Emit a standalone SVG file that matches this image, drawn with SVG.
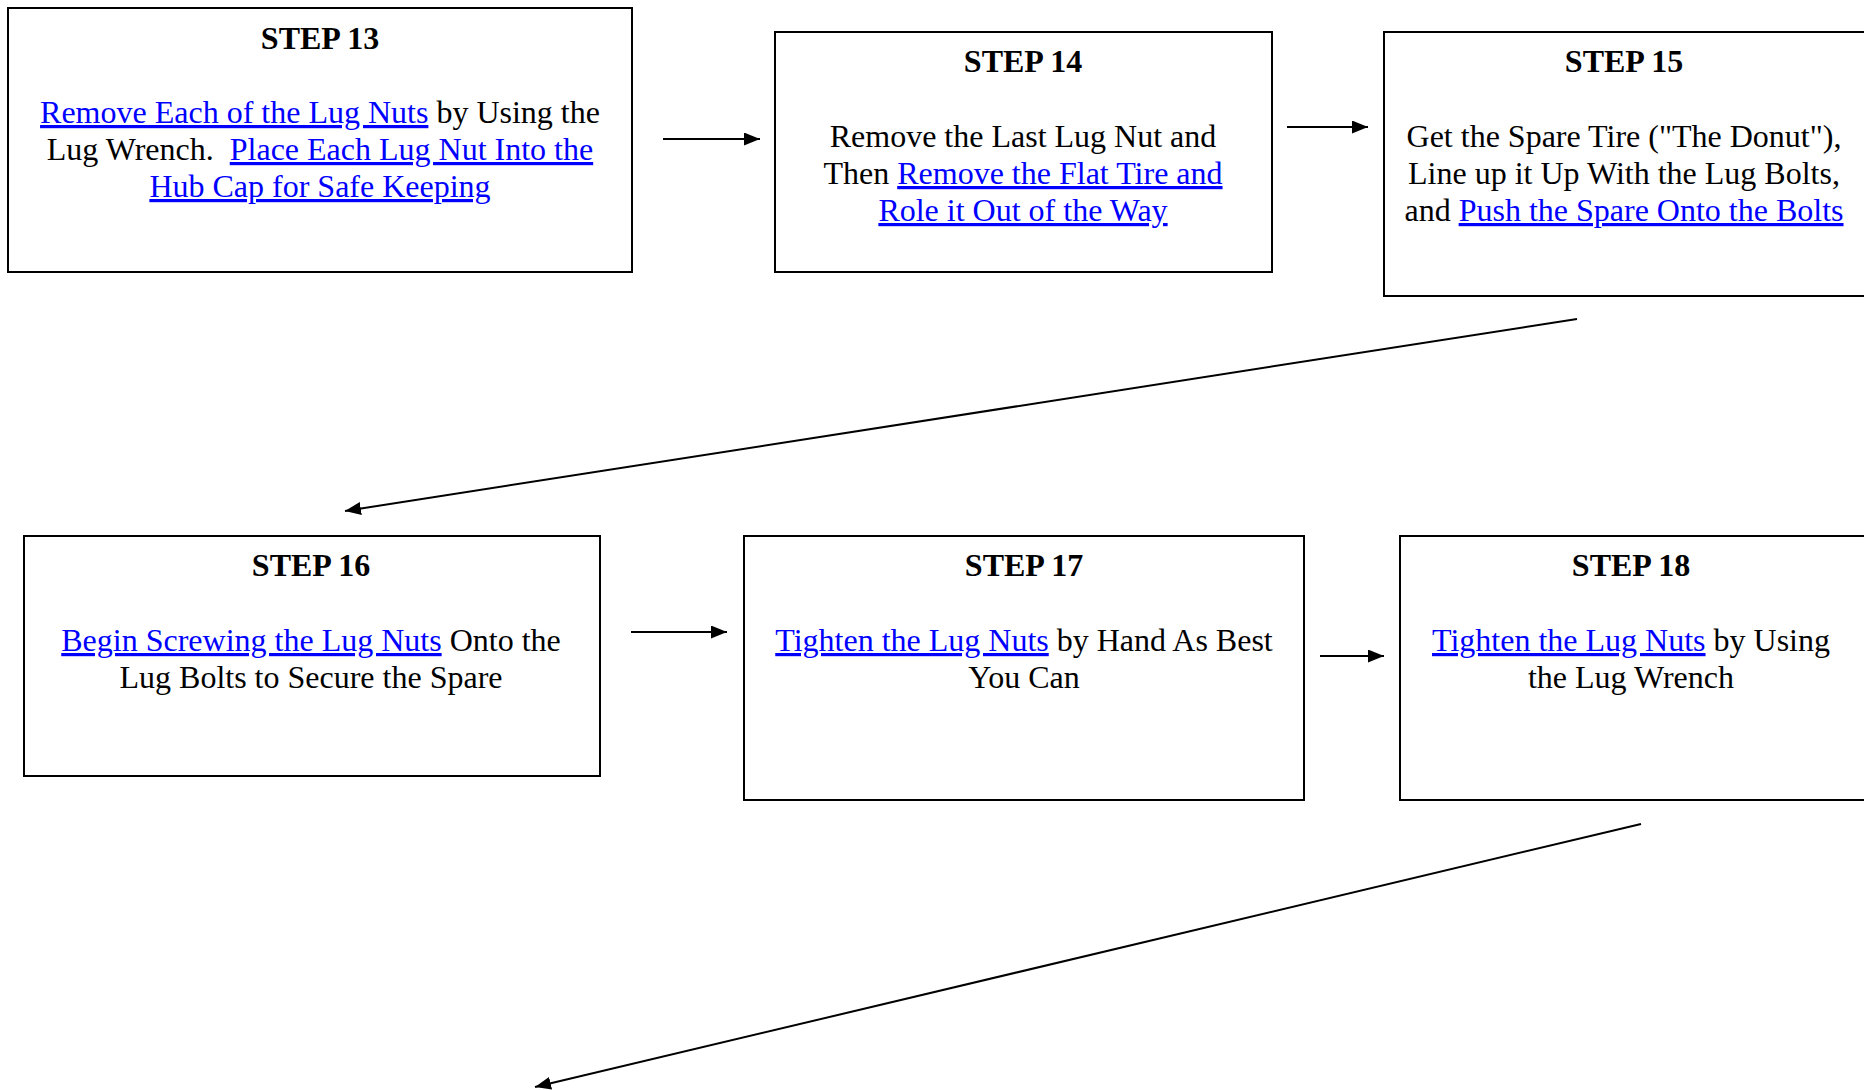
<svg xmlns="http://www.w3.org/2000/svg" width="1864" height="1090" viewBox="0 0 1864 1090">
<style>
.box{fill:#fff;stroke:#000;stroke-width:2}
.t{font-family:"Liberation Serif","Times New Roman",serif;font-weight:bold;font-size:32px;text-anchor:middle;fill:#000}
.b{font-family:"Liberation Serif","Times New Roman",serif;font-size:32px;text-anchor:middle;fill:#000}
.l{fill:#0000ff;text-decoration:underline}
.c{stroke:#000;stroke-width:2;fill:none;marker-end:url(#ah)}
</style>
<defs>
<marker id="ah" markerUnits="userSpaceOnUse" markerWidth="17" markerHeight="13" refX="16" refY="6.5" orient="auto">
<path d="M0,0 L16,6.5 L0,13 z" fill="#000"/>
</marker>
</defs>
<rect width="1864" height="1090" fill="#fff"/>
<g id="connectors">
<line class="c" x1="663" y1="139" x2="760" y2="139"/>
<line class="c" x1="1287" y1="127" x2="1368" y2="127"/>
<line class="c" x1="1577" y1="319" x2="345" y2="511"/>
<line class="c" x1="631" y1="632" x2="727" y2="632"/>
<line class="c" x1="1320" y1="656" x2="1384" y2="656"/>
<line class="c" x1="1641" y1="824" x2="535" y2="1087"/>
</g>
<g id="step13">
<rect class="box" x="8" y="8" width="624" height="264"/>
<text class="t" x="320" y="49">STEP 13</text>
<text class="b" x="320" y="123"><tspan class="l">Remove Each of the Lug Nuts</tspan> by Using the</text>
<text class="b" x="320" y="160" xml:space="preserve">Lug Wrench.  <tspan class="l">Place Each Lug Nut Into the</tspan></text>
<text class="b" x="320" y="197"><tspan class="l">Hub Cap for Safe Keeping</tspan></text>
</g>
<g id="step14">
<rect class="box" x="775" y="32" width="497" height="240"/>
<text class="t" x="1023" y="72">STEP 14</text>
<text class="b" x="1023" y="147">Remove the Last Lug Nut and</text>
<text class="b" x="1023" y="184">Then <tspan class="l">Remove the Flat Tire and</tspan></text>
<text class="b" x="1023" y="221"><tspan class="l">Role it Out of the Way</tspan></text>
</g>
<g id="step15">
<rect class="box" x="1384" y="32" width="482" height="264"/>
<text class="t" x="1624" y="72">STEP 15</text>
<text class="b" x="1624" y="147">Get the Spare Tire ("The Donut"),</text>
<text class="b" x="1624" y="184">Line up it Up With the Lug Bolts,</text>
<text class="b" x="1624" y="221">and <tspan class="l">Push the Spare Onto the Bolts</tspan></text>
</g>
<g id="step16">
<rect class="box" x="24" y="536" width="576" height="240"/>
<text class="t" x="311" y="576">STEP 16</text>
<text class="b" x="311" y="651"><tspan class="l">Begin Screwing the Lug Nuts</tspan> Onto the</text>
<text class="b" x="311" y="688">Lug Bolts to Secure the Spare</text>
</g>
<g id="step17">
<rect class="box" x="744" y="536" width="560" height="264"/>
<text class="t" x="1024" y="576">STEP 17</text>
<text class="b" x="1024" y="651"><tspan class="l">Tighten the Lug Nuts</tspan> by Hand As Best</text>
<text class="b" x="1024" y="688">You Can</text>
</g>
<g id="step18">
<rect class="box" x="1400" y="536" width="466" height="264"/>
<text class="t" x="1631" y="576">STEP 18</text>
<text class="b" x="1631" y="651"><tspan class="l">Tighten the Lug Nuts</tspan> by Using</text>
<text class="b" x="1631" y="688">the Lug Wrench</text>
</g>
</svg>
